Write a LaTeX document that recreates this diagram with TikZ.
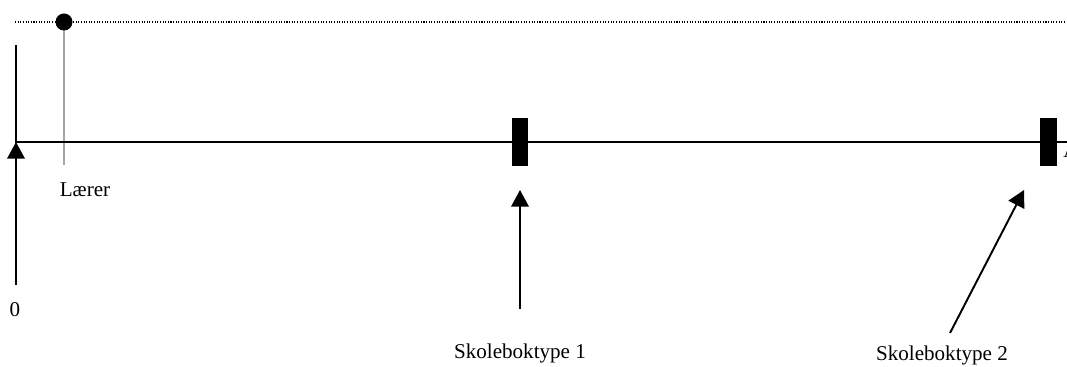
\documentclass[tikz,border=0pt]{standalone}
\usepackage{fontspec}
\setmainfont{Liberation Serif}
\usetikzlibrary{arrows.meta}

\tikzset{
  axisline/.style={line width=1.1pt},
  pointer/.style={line width=1.1pt,-{Triangle[length=9.5pt,width=10pt]}},
  bookmark/.style={fill=black,draw=none},
  lbl/.style={inner sep=0pt,font=\fontsize{12}{14}\selectfont}
}

\begin{document}
\begin{tikzpicture}[x=0.02cm,y=-0.02cm]
\useasboundingbox (0,0) rectangle (1067,367);
% top level, dotted
\draw[dash pattern=on 0.6pt off 0.9pt,line width=0.6pt] (15,22)--(1067,22);
% teacher
\coordinate (dot) at (64,22);
\coordinate (dotfoot) at (64,165);
\draw[gray!70,line width=0.6pt] (dot)--(dotfoot);
\fill (dot) circle (8.5);
\node[lbl] (laerer) at (85,190) {Lærer};
% axis
\coordinate (origin) at (16,142);
\coordinate (top) at (16,45);
\coordinate (axisend) at (1067,142);
\draw[axisline] (top)--(origin)--(axisend);
\node[lbl,anchor=base west] (axislabel) at (1063,158) {A};
% book types
\fill[bookmark] (512,118) rectangle (528,166);
\fill[bookmark] (1040,118) rectangle (1057,166);
% labels and pointers
\node[lbl] (zero) at (15,310) {0};
\node[lbl] (type1) at (520,353) {Skoleboktype 1};
\node[lbl] (type2) at (942,355) {Skoleboktype 2};
\coordinate (zerotail) at (16,285);
\coordinate (type1tail) at (520,309);
\coordinate (type1tip) at (520,190);
\coordinate (type2tail) at (950,333);
\coordinate (type2tip) at (1024,190);
\draw[pointer] (zerotail)--(origin);
\draw[pointer] (type1tail)--(type1tip);
\draw[pointer] (type2tail)--(type2tip);
\end{tikzpicture}
\end{document}
